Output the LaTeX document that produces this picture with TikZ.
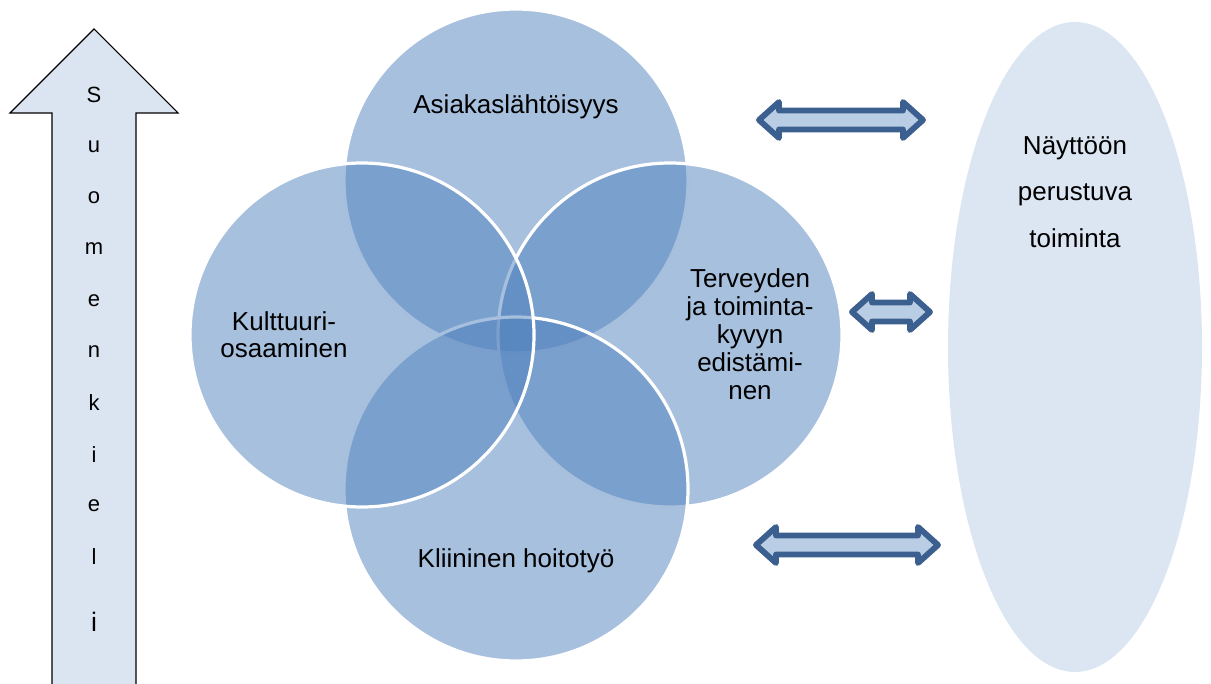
\documentclass[tikz,border=0pt]{standalone}
\usepackage{fontspec}
\setmainfont{Liberation Sans}
\usetikzlibrary{arrows.meta}
\definecolor{vennblue}{HTML}{4F81BD}
\definecolor{paleblue}{HTML}{DBE5F1}
\definecolor{ovalfill}{HTML}{DCE6F2}
\definecolor{dblline}{HTML}{3B5F8E}
\definecolor{dblfill}{HTML}{B9CDE5}
\tikzset{
	venn/.style = {fill=vennblue,fill opacity=0.5,draw=white,line width=2.4pt},
	dblarrow/.style = {draw=dblline,fill=dblfill,line width=4.4pt,line join=round},
	txt/.style = {font=\fontsize{19.5}{21}\selectfont,align=center,inner sep=0pt},
}
% double arrow from x1 to x2 at height y
\newcommand{\dblarr}[3]{%
	\path [dblarrow] (#1,#3) -- (#1+20,#3-18) -- (#1+20,#3-9.5) -- (#2-20,#3-9.5) -- (#2-20,#3-18) -- (#2,#3)
		-- (#2-20,#3+18) -- (#2-20,#3+9.5) -- (#1+20,#3+9.5) -- (#1+20,#3+18) -- cycle;}

\begin{document}
\begin{tikzpicture}[x=0.75pt,y=-0.75pt]
		\clip (0,0) rectangle (1211,684);
		% arrow on the left
		\path [draw=black,line width=0.8pt,fill=paleblue] (94,29) -- (178,113) -- (136,113) -- (136,700) -- (52,700) -- (52,113) -- (10,113) -- cycle;
		\foreach \ch [count=\i from 0] in {S,u,o,m,e,n,k,i,e,l}
			\node (let\i) at (94,95+51.3*\i) [inner sep=0pt,font=\fontsize{16.5}{18}\selectfont] {\ch};
		\node (let10) at (94,622) [inner sep=0pt,font=\fontsize{20}{22}\selectfont] {i};
		% venn circles
		\path [venn] (516,181) circle [radius=172];
		\path [venn] (670,335) circle [radius=172];
		\path [venn] (516,489) circle [radius=172];
		\path [venn] (362,335) circle [radius=172];
		\node (asiakas) at (516,107) [txt] {Asiakaslähtöisyys};
		\node (terveys) at (750,334) [txt] {Terveyden\\ja toiminta-\\kyvyn\\edistämi-\\nen};
		\node (kliininen) at (516,561) [txt] {Kliininen hoitotyö};
		\node (kulttuuri) at (284,335) [txt,font=\fontsize{19.5}{20}\selectfont] {Kulttuuri-\\osaaminen};
		% oval on the right
		\path [fill=ovalfill] (1075,347) ellipse [x radius=127,y radius=325];
		\node (naytto) at (1075,192) [txt,font=\fontsize{19.5}{35}\selectfont] {Näyttöön\\perustuva\\toiminta};
		% double arrows
		\dblarr{759}{923}{120}
		\dblarr{852}{930}{312}
		\dblarr{756}{938}{545}
	\end{tikzpicture}
\end{document}
